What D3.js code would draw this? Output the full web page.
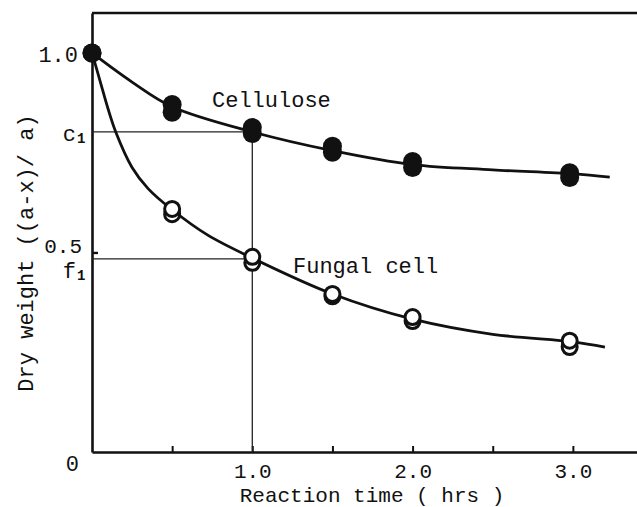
<html>
<head>
    <script src="https://d3js.org/d3.v7.min.js"></script>
    <style>
        body { margin: 0; background: #fff; }
        text { font-family: "Courier New", "Liberation Mono", monospace; fill: #111; }
    </style>
</head>
<body>
    <svg id="chart" width="637" height="507"></svg>
    <script>
        // measured times (hrs), last sample sits a hair left of the 3.0 tick
        var times = [0, 0.5, 1.0, 1.5, 2.0, 2.98]
        // two replicates per sample
        var celluloseA = [1.0, 0.871, 0.813, 0.766, 0.728, 0.700]
        var celluloseB = [1.0, 0.851, 0.798, 0.751, 0.713, 0.688]
        var fungalA = [1.0, 0.609, 0.489, 0.396, 0.338, 0.279]
        var fungalB = [1.0, 0.596, 0.474, 0.390, 0.328, 0.263]

        // hand drawn fitted curves
        var celluloseCurveT = [0, 0.25, 0.5, 1.0, 1.5, 2.0, 2.5, 3.0, 3.23]
        var celluloseCurveV = [1.0, 0.927, 0.865, 0.802, 0.755, 0.72, 0.707, 0.697, 0.689]
        var fungalCurveT = [0, 0.05, 0.1, 0.15, 0.25, 0.35, 0.5, 0.72, 1.0, 1.5, 2.0, 2.5, 3.0, 3.2]
        var fungalCurveV = [1.0, 0.93, 0.86, 0.80, 0.713, 0.66, 0.607, 0.544, 0.486, 0.396, 0.333, 0.295, 0.276, 0.263]

        var c1 = 0.802
        var f1 = 0.484
        var xTicks = [0.5, 1.0, 1.5, 2.0, 2.5, 3.0]
        var yLabels = ['1.0', 'c', '0.5', 'f', '0']
        var yLabelVals = [1.0, c1, 0.5, f1, 0]

        var svg = d3.select('#chart')

        var x = d3.scaleLinear().domain([0, 3.4]).range([92, 637])
        var y = d3.scaleLinear().domain([0, 1.1]).range([452, 13])

        // frame: top line + axes
        svg.append('line')
            .attr('x1', x(0)).attr('x2', x(3.4))
            .attr('y1', y(1.1)).attr('y2', y(1.1))
            .attr('stroke', '#111').attr('stroke-width', 2.6)

        var xAxis = d3.axisBottom(x)
            .tickValues(xTicks)
            .tickSizeInner(-6)
            .tickSizeOuter(0)
            .tickPadding(11)
            .tickFormat(function(d) {
                return d % 1 === 0 ? d3.format('.1f')(d) : ''
            })
        var gx = svg.append('g')
            .attr('transform', 'translate(0,' + y(0) + ')')
            .call(xAxis)
        gx.select('.domain').attr('stroke', '#111').attr('stroke-width', 2.6)
        gx.selectAll('.tick line').attr('stroke', '#111').attr('stroke-width', 2)
        gx.selectAll('.tick text').style('font-size', '21px').attr('fill', '#111')

        var yAxis = d3.axisLeft(y)
            .tickValues([0.5])
            .tickSizeInner(-6)
            .tickSizeOuter(0)
            .tickFormat('')
        var gy = svg.append('g')
            .attr('transform', 'translate(' + x(0) + ',0)')
            .call(yAxis)
        gy.select('.domain').attr('stroke', '#111').attr('stroke-width', 2.6)
        gy.selectAll('.tick line').attr('stroke', '#111').attr('stroke-width', 2.4)

        // y labels, nudged like the original lettering
        var nudge = [1, 1, -7, 11, 11]
        var rightEdge = [78, 76, 82, 76, 79]
        yLabels.forEach(function(t, i) {
            svg.append('text')
                .attr('x', rightEdge[i])
                .attr('y', y(yLabelVals[i]) + nudge[i])
                .attr('dy', '0.35em')
                .attr('text-anchor', 'end')
                .style('font-size', i === 2 ? '21px' : '22px')
                .text(t)
            if (t === 'c' || t === 'f') {
                svg.append('text')
                    .attr('x', rightEdge[i] + 1)
                    .attr('y', y(yLabelVals[i]) + nudge[i] + 10)
                    .style('font-size', '14px')
                    .style('font-weight', 'bold')
                    .text('1')
            }
        })

        // reference lines for c1 and f1 at 1 hr
        svg.append('line')
            .attr('x1', x(0)).attr('x2', x(1.0))
            .attr('y1', y(c1)).attr('y2', y(c1))
            .attr('stroke', '#222').attr('stroke-width', 1.3)
        svg.append('line')
            .attr('x1', x(0)).attr('x2', x(1.0))
            .attr('y1', y(f1)).attr('y2', y(f1))
            .attr('stroke', '#222').attr('stroke-width', 1.3)
        svg.append('line')
            .attr('x1', x(1.0)).attr('x2', x(1.0))
            .attr('y1', y(0)).attr('y2', y(c1))
            .attr('stroke', '#222').attr('stroke-width', 1.3)

        // fitted curves
        var line = d3.line()
            .x(function(d) { return x(d[0]) })
            .y(function(d) { return y(d[1]) })
            .curve(d3.curveCatmullRom.alpha(0.5))

        svg.append('path')
            .datum(d3.zip(celluloseCurveT, celluloseCurveV))
            .attr('d', line)
            .attr('fill', 'none').attr('stroke', '#111').attr('stroke-width', 2.8)
        svg.append('path')
            .datum(d3.zip(fungalCurveT, fungalCurveV))
            .attr('d', line)
            .attr('fill', 'none').attr('stroke', '#111').attr('stroke-width', 2.8)

        // fungal cell: open circles, lower replicate drawn first
        ;[fungalB, fungalA].forEach(function(vals) {
            svg.append('g').selectAll('circle')
                .data(d3.zip(times, vals).slice(1))
                .enter()
                .append('circle')
                .attr('cx', function(d) { return x(d[0]) })
                .attr('cy', function(d) { return y(d[1]) })
                .attr('r', 7.5)
                .attr('fill', '#fff')
                .attr('stroke', '#111')
                .attr('stroke-width', 3)
        })

        // cellulose: filled dots
        ;[celluloseA, celluloseB].forEach(function(vals) {
            svg.append('g').selectAll('circle')
                .data(d3.zip(times, vals))
                .enter()
                .append('circle')
                .attr('cx', function(d) { return x(d[0]) })
                .attr('cy', function(d) { return y(d[1]) })
                .attr('r', 9.5)
                .attr('fill', '#111')
        })

        // series labels
        svg.append('text')
            .attr('x', 212).attr('y', 107)
            .style('font-size', '22px')
            .text('Cellulose')
        svg.append('text')
            .attr('x', 293).attr('y', 273)
            .style('font-size', '22px')
            .text('Fungal cell')

        // axis titles
        svg.append('text')
            .attr('x', 372).attr('y', 502)
            .attr('text-anchor', 'middle')
            .style('font-size', '21px')
            .text('Reaction time ( hrs )')
        svg.append('text')
            .attr('transform', 'translate(33,253) rotate(-90)')
            .attr('text-anchor', 'middle')
            .style('font-size', '22px')
            .text('Dry weight ((a-x)/ a)')
    </script>
</body>
</html>
